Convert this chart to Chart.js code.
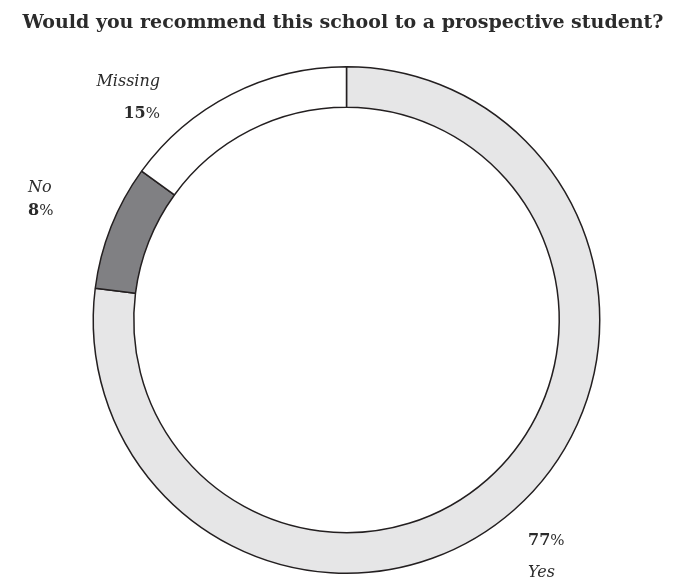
<!DOCTYPE html>
<html>
<head>
<meta charset="utf-8">
<script src="https://cdn.jsdelivr.net/npm/chart.js@4"></script>
<style>
  body { margin: 0; background: #fff; }
  #wrap { width: 674px; height: 585px; position: relative; }
</style>
</head>
<body>
<div id="wrap"><canvas id="donut"></canvas></div>
<script>
// data
const categories = ["Yes", "No", "Missing"];
const percents = [77, 8, 15];
const sliceColors = ["#e6e6e7", "#808083", "#ffffff"];
const chartTitle = "Would you recommend this school to a prospective student?";

const ink = "#2b2b2b";
const serif = "'DejaVu Serif', serif";

// labels around the ring (name in italics, number bold)
const labelSpots = {
    Yes: { x: 528, align: "left", pctY: 545, nameY: 577 },
    No: { x: 28, align: "left", pctY: 215, nameY: 192 },
    Missing: { x: 160, align: "right", pctY: 118, nameY: 86 }
};

function drawPct(ctx, value, x, y, align) {
    const num = String(value);
    ctx.font = "bold 16px " + serif;
    const numW = ctx.measureText(num).width;
    ctx.font = "15px " + serif;
    const pW = ctx.measureText("%").width;
    let left = align === "right" ? x - numW - pW : x;
    ctx.textAlign = "left";
    ctx.font = "bold 16px " + serif;
    ctx.fillText(num, left, y);
    ctx.font = "15px " + serif;
    ctx.fillText("%", left + numW, y);
}

const textPlugin = {
    id: "textPlugin",
    afterDraw(chart) {
        const ctx = chart.ctx;
        ctx.save();
        ctx.fillStyle = ink;
        ctx.textBaseline = "alphabetic";

        // title
        ctx.font = "bold 19px " + serif;
        ctx.textAlign = "center";
        ctx.fillText(chartTitle, 343, 28);

        categories.forEach((name, i) => {
            const spot = labelSpots[name];
            ctx.font = "italic 16px " + serif;
            ctx.textAlign = spot.align;
            ctx.fillText(name, spot.x, spot.nameY);
            drawPct(ctx, percents[i], spot.x, spot.pctY, spot.align);
        });
        ctx.restore();
    }
};

new Chart(document.getElementById("donut"), {
    type: "doughnut",
    data: {
        labels: categories,
        datasets: [{
            data: percents,
            backgroundColor: sliceColors,
            borderColor: "#231f20",
            borderWidth: 1.5
        }]
    },
    options: {
        responsive: true,
        maintainAspectRatio: false,
        animation: false,
        cutout: "84%",
        layout: { padding: { top: 66, bottom: 11, left: 92, right: 73 } },
        plugins: {
            legend: { display: false },
            tooltip: { enabled: false }
        }
    },
    plugins: [textPlugin]
});
</script>
</body>
</html>
